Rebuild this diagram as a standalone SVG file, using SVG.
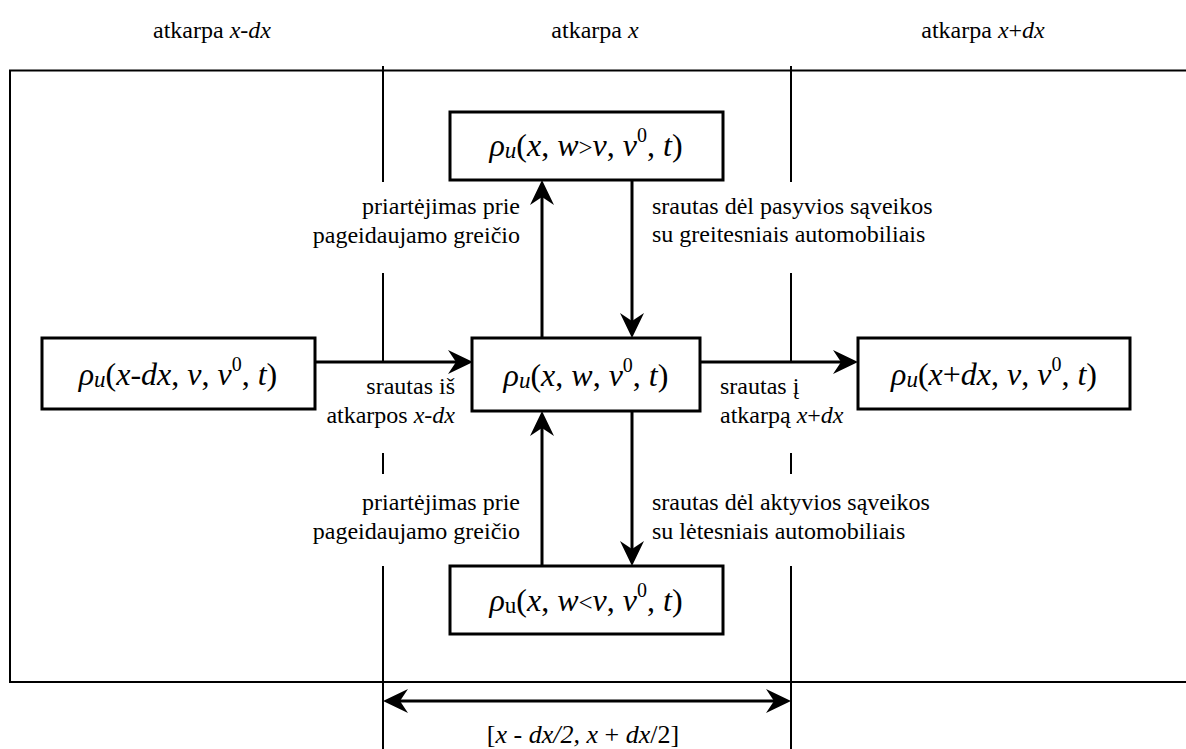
<svg xmlns="http://www.w3.org/2000/svg" width="1186" height="749" viewBox="0 0 1186 749">
<style>
text{font-family:Liberation Serif, Tinos, Noto Serif, DejaVu Serif, Times New Roman, Times, serif}
.lab{font-size:24px}
.node{font-size:32px}
.sub{font-size:23px}
.sup{font-size:20px}
.i{font-style:italic}
.box{fill:#fff;stroke:#000;stroke-width:3}
.frame{fill:none;stroke:#000;stroke-width:2}
.conn{fill:none;stroke:#000;stroke-width:3}
</style>
<defs>
<marker id="ah" viewBox="-26 -13 27 26" refX="-10" refY="0" markerWidth="27" markerHeight="26" markerUnits="userSpaceOnUse" orient="auto-start-reverse">
<path d="M0,0 L-25,-12 L-17,0 L-25,12 Z" fill="#000"/>
</marker>
</defs>
<g id="frame">
<path class="frame" d="M1190,70.5 H10 V682 H1190"/>
<path class="frame" d="M383,66 V182 M383,273 V362 M383,453 V474 M383,566 V749"/>
<path class="frame" d="M791,66 V182 M791,273 V362 M791,453 V474 M791,566 V749"/>
</g>
<g id="headers" class="lab">
<text x="212" y="38" text-anchor="middle">atkarpa <tspan class="i">x</tspan>-<tspan class="i">dx</tspan></text>
<text x="595" y="38" text-anchor="middle">atkarpa <tspan class="i">x</tspan></text>
<text x="983" y="38" text-anchor="middle">atkarpa <tspan class="i">x</tspan>+<tspan class="i">dx</tspan></text>
</g>
<g id="connectors">
<path class="conn" d="M315,362 H463" marker-end="url(#ah)"/>
<path class="conn" d="M700,362 H848" marker-end="url(#ah)"/>
<path class="conn" d="M542,338 V190" marker-end="url(#ah)"/>
<path class="conn" d="M632,180 V328" marker-end="url(#ah)"/>
<path class="conn" d="M542,566 V421" marker-end="url(#ah)"/>
<path class="conn" d="M632,411 V556" marker-end="url(#ah)"/>
<path class="conn" d="M393,701 H781" marker-start="url(#ah)" marker-end="url(#ah)"/>
</g>
<g id="labels" class="lab">
<text x="520" y="214" text-anchor="end">priartėjimas prie</text>
<text x="520" y="243" text-anchor="end">pageidaujamo greičio</text>
<text x="652" y="214">srautas dėl pasyvios sąveikos</text>
<text x="652" y="242">su greitesniais automobiliais</text>
<text x="455" y="394" text-anchor="end">srautas iš</text>
<text x="455" y="423" text-anchor="end">atkarpos <tspan class="i">x</tspan>-<tspan class="i">dx</tspan></text>
<text x="720" y="394">srautas į</text>
<text x="720" y="423">atkarpą <tspan class="i">x</tspan>+<tspan class="i">dx</tspan></text>
<text x="520" y="510" text-anchor="end">priartėjimas prie</text>
<text x="520" y="539" text-anchor="end">pageidaujamo greičio</text>
<text x="652" y="510">srautas dėl aktyvios sąveikos</text>
<text x="652" y="539">su lėtesniais automobiliais</text>
<text x="583" y="743" text-anchor="middle" font-size="26">[<tspan class="i">x</tspan> - <tspan class="i">dx</tspan><tspan class="i">/2, x</tspan> + <tspan class="i">dx</tspan>/2]</text>
</g>
<g id="node-top">
<rect class="box" x="450" y="112" width="273" height="68"/>
<text class="node" x="586" y="156" text-anchor="middle"><tspan class="i">ρ</tspan><tspan class="i sub" dy="2">u</tspan><tspan dy="-2">(</tspan><tspan class="i">x</tspan>, <tspan class="i">w</tspan><tspan font-size="25">&gt;</tspan><tspan class="i">v</tspan>, <tspan class="i">v</tspan><tspan class="sup" dy="-14">0</tspan><tspan dy="14">, </tspan><tspan class="i">t</tspan>)</text>
</g>
<g id="node-left">
<rect class="box" x="42" y="338" width="273" height="71"/>
<text class="node" x="178" y="385" text-anchor="middle"><tspan class="i">ρ</tspan><tspan class="i sub" dy="2">u</tspan><tspan dy="-2">(</tspan><tspan class="i">x</tspan>-<tspan class="i">dx</tspan>, <tspan class="i">v</tspan>, <tspan class="i">v</tspan><tspan class="sup" dy="-14">0</tspan><tspan dy="14">, </tspan><tspan class="i">t</tspan>)</text>
</g>
<g id="node-center">
<rect class="box" x="472" y="338" width="228" height="73"/>
<text class="node" x="586" y="386" text-anchor="middle"><tspan class="i">ρ</tspan><tspan class="i sub" dy="2">u</tspan><tspan dy="-2">(</tspan><tspan class="i">x</tspan>, <tspan class="i">w</tspan>, <tspan class="i">v</tspan><tspan class="sup" dy="-14">0</tspan><tspan dy="14">, </tspan><tspan class="i">t</tspan>)</text>
</g>
<g id="node-right">
<rect class="box" x="858" y="338" width="272" height="71"/>
<text class="node" x="994" y="385" text-anchor="middle"><tspan class="i">ρ</tspan><tspan class="i sub" dy="2">u</tspan><tspan dy="-2">(</tspan><tspan class="i">x</tspan>+<tspan class="i">dx</tspan>, <tspan class="i">v</tspan>, <tspan class="i">v</tspan><tspan class="sup" dy="-14">0</tspan><tspan dy="14">, </tspan><tspan class="i">t</tspan>)</text>
</g>
<g id="node-bottom">
<rect class="box" x="450" y="566" width="273" height="68"/>
<text class="node" x="586" y="611" text-anchor="middle"><tspan class="i">ρ</tspan><tspan class="sub" dy="2">u</tspan><tspan dy="-2">(</tspan><tspan class="i">x</tspan>, <tspan class="i">w</tspan><tspan font-size="25">&lt;</tspan><tspan class="i">v</tspan>, <tspan class="i">v</tspan><tspan class="sup" dy="-14">0</tspan><tspan dy="14">, </tspan><tspan class="i">t</tspan>)</text>
</g>
</svg>
